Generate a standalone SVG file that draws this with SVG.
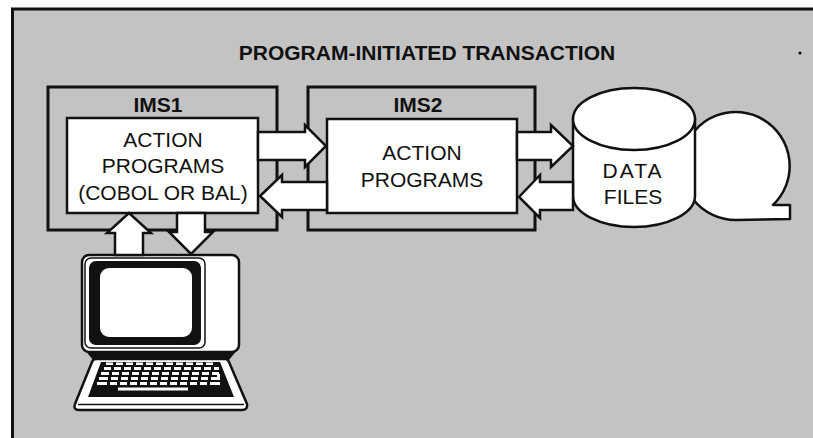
<svg xmlns="http://www.w3.org/2000/svg" width="813" height="438" viewBox="0 0 813 438">
  <style>
    .frame { fill: none; stroke: #111; stroke-width: 3; }
    .group-box { fill: none; stroke: #111; stroke-width: 3; }
    .prog-box { fill: #fff; stroke: #111; stroke-width: 2.5; }
    .shape { fill: #fff; stroke: #111; stroke-width: 2.5; stroke-linejoin: round; }
    .arrow { fill: #fff; stroke: #111; stroke-width: 2.5; stroke-linejoin: miter; }
    .label { font-family: "Liberation Sans", Arial, Helvetica, sans-serif; font-size: 21px; fill: #111; text-anchor: middle; }
    .bold { font-weight: bold; }
    .key { fill: #fff; }
  </style>

  <!-- page background and frame -->
  <rect x="0" y="0" width="813" height="438" fill="#fff"/>
  <rect x="12" y="9" width="801" height="429" fill="#c3c3c3"/>
  <line class="frame" x1="11" y1="9" x2="813" y2="9"/>
  <line class="frame" x1="12.5" y1="8" x2="12.5" y2="438"/>

  <g id="title">
    <text class="label bold" x="427" y="60">PROGRAM-INITIATED TRANSACTION</text>
    <circle cx="800" cy="53" r="1.6" fill="#111"/>
  </g>

  <g id="ims1">
    <rect class="group-box" x="48" y="87" width="229" height="143"/>
    <text class="label bold" x="158" y="112" font-size="20">IMS1</text>
    <rect class="prog-box" x="67" y="118" width="191" height="95"/>
    <text class="label" x="163" y="147">ACTION</text>
    <text class="label" x="163" y="173">PROGRAMS</text>
    <text class="label" x="163" y="200">(COBOL OR BAL)</text>
  </g>

  <g id="ims2">
    <rect class="group-box" x="308" y="87" width="227" height="143"/>
    <text class="label bold" x="418" y="112" font-size="20">IMS2</text>
    <rect class="prog-box" x="327" y="119" width="190" height="94"/>
    <text class="label" x="422" y="160">ACTION</text>
    <text class="label" x="422" y="187">PROGRAMS</text>
  </g>

  <g id="tape">
    <path class="shape" d="M736 220 A54 54 0 1 1 773 205 L790 205 L790 219 Z"/>
  </g>

  <g id="data-files">
    <path class="shape" d="M573 119 L573 196 A61 31 0 0 0 695 196 L695 119 Z"/>
    <ellipse class="shape" cx="634" cy="119" rx="61" ry="31"/>
    <text class="label" x="633" y="178" letter-spacing="2">DATA</text>
    <text class="label" x="633" y="204">FILES</text>
  </g>

  <g id="terminal">
    <!-- base under the monitor -->
    <path d="M84 349 L238 349 L229 360 L93 360 Z" fill="#111"/>
    <!-- monitor housing -->
    <rect class="shape" x="82" y="255" width="157" height="97" rx="7"/>
    <rect x="85" y="258" width="120" height="90" rx="6" fill="none" stroke="#111" stroke-width="1.5"/>
    <rect x="89" y="261" width="112" height="84" rx="7" fill="#111"/>
    <rect x="100" y="268" width="92" height="69" rx="9" fill="#fff"/>
    <!-- keyboard -->
    <path class="shape" d="M96 359 L225 359 Q228 359 229 362 L247 404 Q248 410 242 410 L79 410 Q73 410 75 404 L92 362 Q93 359 96 359 Z"/>
    <path d="M101 362 L220 362 L234 397 L88 397 Z" fill="#111"/>
    <line x1="78" y1="404.5" x2="244" y2="404.5" stroke="#111" stroke-width="1.5"/>
    <g class="keys">
      <rect class="key" x="106" y="362.5" width="7" height="2.5"/><rect class="key" x="116" y="362.5" width="7" height="2.5"/><rect class="key" x="126" y="362.5" width="7" height="2.5"/><rect class="key" x="136" y="362.5" width="7" height="2.5"/><rect class="key" x="146" y="362.5" width="7" height="2.5"/><rect class="key" x="156" y="362.5" width="7" height="2.5"/><rect class="key" x="166" y="362.5" width="7" height="2.5"/><rect class="key" x="176" y="362.5" width="7" height="2.5"/><rect class="key" x="186" y="362.5" width="7" height="2.5"/><rect class="key" x="196" y="362.5" width="7" height="2.5"/><rect class="key" x="206" y="362.5" width="7" height="2.5"/>
      <rect class="key" x="104" y="367" width="7" height="3"/><rect class="key" x="114" y="367" width="7" height="3"/><rect class="key" x="124" y="367" width="7" height="3"/><rect class="key" x="134" y="367" width="7" height="3"/><rect class="key" x="144" y="367" width="7" height="3"/><rect class="key" x="154" y="367" width="7" height="3"/><rect class="key" x="164" y="367" width="7" height="3"/><rect class="key" x="174" y="367" width="7" height="3"/><rect class="key" x="184" y="367" width="7" height="3"/><rect class="key" x="194" y="367" width="7" height="3"/><rect class="key" x="204" y="367" width="7" height="3"/><rect class="key" x="214" y="367" width="5" height="3"/>
      <rect class="key" x="101" y="372" width="8" height="3"/><rect class="key" x="112" y="372" width="7" height="3"/><rect class="key" x="122" y="372" width="7" height="3"/><rect class="key" x="132" y="372" width="7" height="3"/><rect class="key" x="142" y="372" width="7" height="3"/><rect class="key" x="152" y="372" width="7" height="3"/><rect class="key" x="162" y="372" width="7" height="3"/><rect class="key" x="172" y="372" width="7" height="3"/><rect class="key" x="182" y="372" width="7" height="3"/><rect class="key" x="192" y="372" width="7" height="3"/><rect class="key" x="202" y="372" width="7" height="3"/><rect class="key" x="212" y="372" width="7" height="3"/>
      <rect class="key" x="99" y="377" width="9" height="3"/><rect class="key" x="111" y="377" width="7" height="3"/><rect class="key" x="121" y="377" width="7" height="3"/><rect class="key" x="131" y="377" width="7" height="3"/><rect class="key" x="141" y="377" width="7" height="3"/><rect class="key" x="151" y="377" width="7" height="3"/><rect class="key" x="161" y="377" width="7" height="3"/><rect class="key" x="171" y="377" width="7" height="3"/><rect class="key" x="181" y="377" width="7" height="3"/><rect class="key" x="191" y="377" width="7" height="3"/><rect class="key" x="201" y="377" width="7" height="3"/><rect class="key" x="211" y="377" width="6" height="3"/><rect class="key" x="217" y="374" width="3" height="6"/>
      <rect class="key" x="97" y="382" width="10" height="3"/><rect class="key" x="110" y="382" width="7" height="3"/><rect class="key" x="120" y="382" width="7" height="3"/><rect class="key" x="130" y="382" width="7" height="3"/><rect class="key" x="140" y="382" width="7" height="3"/><rect class="key" x="150" y="382" width="7" height="3"/><rect class="key" x="160" y="382" width="7" height="3"/><rect class="key" x="170" y="382" width="7" height="3"/><rect class="key" x="180" y="382" width="7" height="3"/><rect class="key" x="190" y="382" width="7" height="3"/><rect class="key" x="200" y="382" width="7" height="3"/><rect class="key" x="210" y="382" width="10" height="3"/>
      <rect class="key" x="118" y="387.5" width="70" height="3"/>
    </g>
  </g>

  <g id="connectors">
    <!-- IMS1 to IMS2 -->
    <polygon class="arrow" points="258,132 305,132 305,125 326,146 305,167 305,160 258,160"/>
    <!-- IMS2 to IMS1 -->
    <polygon class="arrow" points="327,182 282,182 282,175 260,196 282,217 282,210 327,210"/>
    <!-- IMS2 to data files -->
    <polygon class="arrow" points="517,132 551,132 551,125 573,146 551,167 551,160 517,160"/>
    <!-- data files to IMS2 -->
    <polygon class="arrow" points="573,182 540,182 540,175 519,197 540,218 540,210 573,210"/>
    <!-- terminal to IMS1 -->
    <polygon class="arrow" points="115,255 115,233 107,233 129,213 151,233 143,233 143,255"/>
    <!-- IMS1 to terminal -->
    <polygon class="arrow" points="177,213 177,232 169,232 191,254 213,232 205,232 205,213"/>
  </g>
</svg>
